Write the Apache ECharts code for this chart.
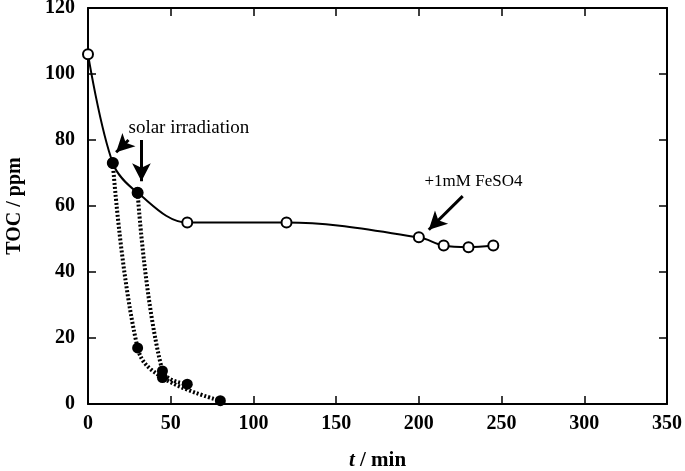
<!DOCTYPE html>
<html>
<head>
<meta charset="utf-8">
<script src="https://cdn.jsdelivr.net/npm/echarts@6/dist/echarts.min.js"></script>
<style>
    html, body { margin: 0; padding: 0; background: #fff; }
    #chart { width: 685px; height: 471px; }
</style>
</head>
<body>
<div id="chart"></div>
<script>
    // TOC decay data
    var darkTime = [0, 15, 30, 60, 120, 200, 215, 230, 245];
    var darkToc = [106, 73, 64, 55, 55, 50.5, 48, 47.5, 48];
    var solarFromT15Time = [15, 30, 45, 80];
    var solarFromT15Toc = [73, 17, 8, 1];
    var solarFromT30Time = [30, 45, 60];
    var solarFromT30Toc = [64, 10, 6];
    var xTicks = [0, 50, 100, 150, 200, 250, 300, 350];
    var yTicks = [0, 20, 40, 60, 80, 100, 120];

    var serif = 'Liberation Serif';

    function pairs(xs, ys) {
        var out = [];
        for (var i = 0; i < xs.length; i++) out.push([xs[i], ys[i]]);
        return out;
    }

    // points where the solar runs start are drawn filled
    var mainData = pairs(darkTime, darkToc).map(function (p) {
        var filled = p[0] === 15 || p[0] === 30;
        return {value: p, itemStyle: {color: filled ? '#000' : '#fff'}};
    });

    var arrowLine = {color: '#000', width: 3, type: 'solid'};
    var frameLine = {onZero: false, lineStyle: {color: '#000', width: 2}};
    var tick = {inside: true, length: 8, lineStyle: {color: '#000', width: 1.5}};

    var chart = echarts.init(document.getElementById('chart'));
    var option = {
        animation: false,
        grid: {left: 88, right: 18, top: 8, bottom: 67, outerBoundsMode: 'none'},
        xAxis: [{
            type: 'value', min: 0, max: 350, interval: 50,
            name: '{i|t} / min', nameLocation: 'middle', nameGap: 46,
            nameTextStyle: {fontFamily: serif, fontSize: 21, fontWeight: 'bold', color: '#000',
                rich: {i: {fontFamily: serif, fontStyle: 'italic', fontWeight: 'bold', fontSize: 21}}},
            axisLine: frameLine,
            axisTick: tick,
            axisLabel: {fontFamily: serif, fontSize: 20, fontWeight: 'bold', color: '#000', margin: 10,
                formatter: function (v) { return xTicks.indexOf(v) >= 0 ? String(v) : ''; }},
            splitLine: {show: false}
        }, {
            type: 'value', min: 0, max: 350, interval: 50, position: 'top',
            axisLine: frameLine,
            axisTick: tick,
            axisLabel: {show: false}, splitLine: {show: false}
        }],
        yAxis: [{
            type: 'value', min: 0, max: 120, interval: 20,
            name: 'TOC / ppm', nameLocation: 'middle', nameGap: 63,
            nameTextStyle: {fontFamily: serif, fontSize: 20, fontWeight: 'bold', color: '#000'},
            axisLine: frameLine,
            axisTick: tick,
            axisLabel: {fontFamily: serif, fontSize: 20, fontWeight: 'bold', color: '#000', margin: 13,
                formatter: function (v) { return yTicks.indexOf(v) >= 0 ? String(v) : ''; }},
            splitLine: {show: false}
        }, {
            type: 'value', min: 0, max: 120, interval: 20, position: 'right',
            axisLine: frameLine,
            axisTick: tick,
            axisLabel: {show: false}, splitLine: {show: false}
        }],
        series: [{
            type: 'line',
            name: 'solar from 15 min',
            data: pairs(solarFromT15Time, solarFromT15Toc),
            smooth: 0.4,
            symbol: 'circle', symbolSize: 11,
            itemStyle: {color: '#000'},
            lineStyle: {color: '#000', width: 4, type: [2, 2]},
            z: 3
        }, {
            type: 'line',
            name: 'solar from 30 min',
            data: pairs(solarFromT30Time, solarFromT30Toc),
            smooth: 0.4,
            symbol: 'circle', symbolSize: 11,
            itemStyle: {color: '#000'},
            lineStyle: {color: '#000', width: 4, type: [2, 2]},
            z: 3
        }, {
            type: 'line',
            name: 'dark',
            data: mainData,
            smooth: 0.35,
            symbol: 'circle', symbolSize: 10,
            itemStyle: {borderColor: '#000', borderWidth: 2},
            lineStyle: {color: '#000', width: 2},
            z: 4,
            markPoint: {
                symbol: 'circle', symbolSize: 0,
                label: {show: true, position: 'inside', fontFamily: serif, color: '#000',
                    formatter: function (p) { return p.name; }},
                data: [
                    {name: 'solar irradiation', coord: [61, 83.5], label: {fontSize: 19}},
                    {name: '+1mM FeSO4', coord: [233, 67.5], label: {fontSize: 17}}
                ]
            },
            markLine: {
                silent: true,
                symbol: ['none', 'arrow'], symbolSize: [14, 18],
                label: {show: false},
                lineStyle: arrowLine,
                data: [
                    [{coord: [24.5, 80]}, {coord: [17, 76.3]}],
                    [{coord: [32.3, 80]}, {coord: [32.3, 67.5]}],
                    [{coord: [226.5, 63]}, {coord: [206, 52.8]}]
                ]
            }
        }]
    };
    chart.setOption(option);
</script>
</body>
</html>
